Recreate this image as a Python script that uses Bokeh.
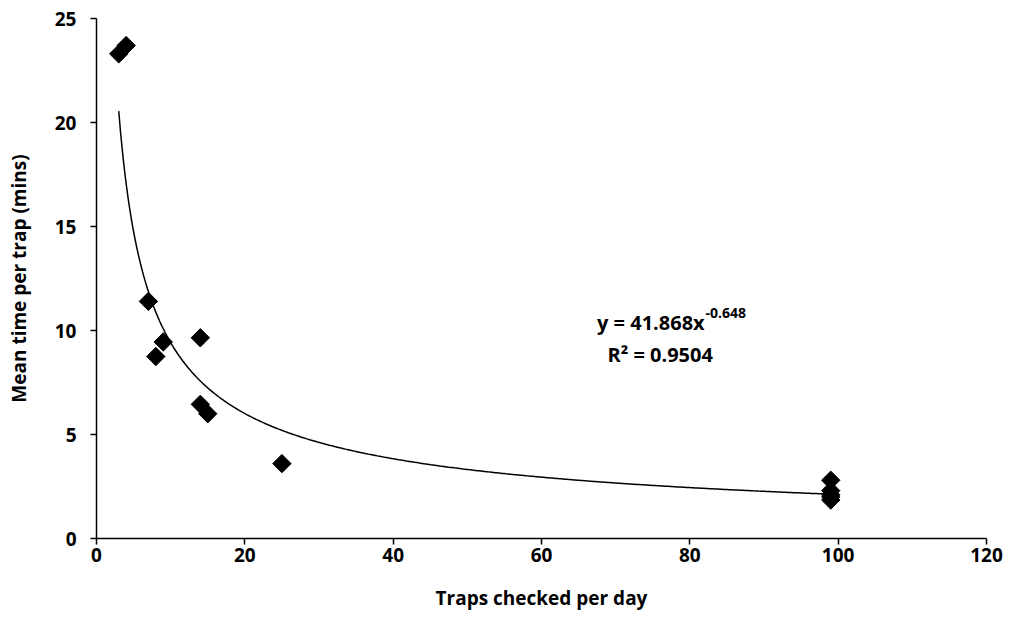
from bokeh.plotting import figure
from bokeh.embed import file_html
from bokeh.resources import INLINE
from bokeh.models import Range1d, FixedTicker
from bokeh.core.properties import value
import numpy as np

# Data
traps_per_day = [3, 4, 7, 8, 9, 14, 14, 15, 25, 99, 99, 99, 99, 99]
mean_time = [23.3, 23.7, 11.4, 8.75, 9.45, 9.65, 6.45, 6.0, 3.6, 2.8, 2.3, 2.1, 2.0, 1.85]

# Power trendline coefficients (as displayed)
coef_a = 41.868
coef_b = -0.648
r_squared = 0.9504

x_ticks = [0, 20, 40, 60, 80, 100, 120]
y_ticks = [0, 5, 10, 15, 20, 25]

FONT = "Open Sans"
TICK_FONT = "Noto Sans"

p = figure(width=1007, height=623, output_backend="svg", toolbar_location=None,
           x_range=Range1d(0, 120), y_range=Range1d(0, 25),
           min_border_left=96, min_border_right=21, min_border_top=18, min_border_bottom=85)
p.outline_line_color = None
p.xgrid.visible = False
p.ygrid.visible = False

p.xaxis.ticker = FixedTicker(ticks=x_ticks)
p.yaxis.ticker = FixedTicker(ticks=y_ticks)
p.xaxis.axis_label = "Traps checked per day"
p.yaxis.axis_label = "Mean time per trap (mins)"

for ax in (p.xaxis, p.yaxis):
    ax.axis_line_color = "black"
    ax.axis_line_width = 1.5
    ax.major_tick_line_color = "black"
    ax.major_tick_line_width = 1.5
    ax.major_tick_in = 0
    ax.major_tick_out = 6
    ax.minor_tick_line_color = None
    ax.major_label_text_font = TICK_FONT
    ax.major_label_text_font_size = "19px"
    ax.major_label_text_font_style = "bold"
    ax.major_label_text_color = "black"
    ax.axis_label_text_font = FONT
    ax.axis_label_text_font_style = "bold"
    ax.axis_label_text_font_size = "19px"
    ax.axis_label_text_color = "black"

p.xaxis.major_label_standoff = 3
p.yaxis.major_label_standoff = 14
p.xaxis.axis_label_standoff = 20
p.yaxis.axis_label_standoff = 20

# Trendline
xs = np.linspace(min(traps_per_day), max(traps_per_day), 400)
ys = coef_a * xs ** coef_b
p.line(xs, ys, line_color="black", line_width=1.5)

# Points
p.scatter(traps_per_day, mean_time, marker="square", angle=np.pi / 4, size=13,
          fill_color="black", line_color="black")

# Equation annotation
p.text(x=[82.0], y=[10.38], text=["y = 41.868x"], text_font=value(FONT),
       text_font_style="bold", text_font_size="20px", text_align="right",
       text_baseline="middle", text_color="black")
p.text(x=[82.1], y=[10.85], text=[f"{coef_b}"], text_font=value(FONT),
       text_font_style="bold", text_font_size="14px", text_align="left",
       text_baseline="middle", text_color="black")
p.text(x=[76.0], y=[8.85], text=[f"R\u00b2 = {r_squared}"], text_font=value(FONT),
       text_font_style="bold", text_font_size="20px", text_align="center",
       text_baseline="middle", text_color="black")

open("out.html", "w").write(file_html(p, INLINE))
